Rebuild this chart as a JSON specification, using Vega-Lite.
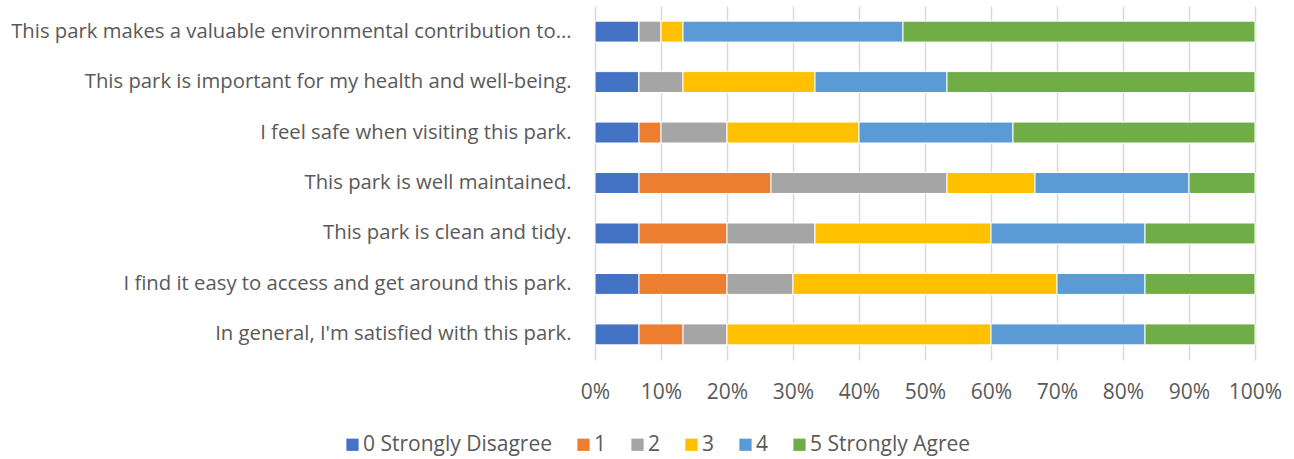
{
  "$schema": "https://vega.github.io/schema/vega-lite/v6.json",
  "width": 660,
  "height": 354,
  "autosize": "none",
  "padding": {"left": 595, "top": 6, "right": 39, "bottom": 99},
  "background": "white",
  "config": {
    "view": {"stroke": null},
    "font": "Open Sans",
    "axis": {"labelColor": "#595959", "labelFont": "Open Sans", "labelFontSize": 20.3},
    "legend": {"labelColor": "#595959", "labelFont": "Open Sans", "labelFontSize": 21}
  },
  "data": {
    "values": [
      {"q": "This park makes a valuable environmental contribution to…", "r": "0 Strongly Disagree", "o": 0, "n": 2},
      {"q": "This park makes a valuable environmental contribution to…", "r": "1", "o": 1, "n": 0},
      {"q": "This park makes a valuable environmental contribution to…", "r": "2", "o": 2, "n": 1},
      {"q": "This park makes a valuable environmental contribution to…", "r": "3", "o": 3, "n": 1},
      {"q": "This park makes a valuable environmental contribution to…", "r": "4", "o": 4, "n": 10},
      {"q": "This park makes a valuable environmental contribution to…", "r": "5 Strongly Agree", "o": 5, "n": 16},
      {"q": "This park is important for my health and well-being.", "r": "0 Strongly Disagree", "o": 0, "n": 2},
      {"q": "This park is important for my health and well-being.", "r": "1", "o": 1, "n": 0},
      {"q": "This park is important for my health and well-being.", "r": "2", "o": 2, "n": 2},
      {"q": "This park is important for my health and well-being.", "r": "3", "o": 3, "n": 6},
      {"q": "This park is important for my health and well-being.", "r": "4", "o": 4, "n": 6},
      {"q": "This park is important for my health and well-being.", "r": "5 Strongly Agree", "o": 5, "n": 14},
      {"q": "I feel safe when visiting this park.", "r": "0 Strongly Disagree", "o": 0, "n": 2},
      {"q": "I feel safe when visiting this park.", "r": "1", "o": 1, "n": 1},
      {"q": "I feel safe when visiting this park.", "r": "2", "o": 2, "n": 3},
      {"q": "I feel safe when visiting this park.", "r": "3", "o": 3, "n": 6},
      {"q": "I feel safe when visiting this park.", "r": "4", "o": 4, "n": 7},
      {"q": "I feel safe when visiting this park.", "r": "5 Strongly Agree", "o": 5, "n": 11},
      {"q": "This park is well maintained.", "r": "0 Strongly Disagree", "o": 0, "n": 2},
      {"q": "This park is well maintained.", "r": "1", "o": 1, "n": 6},
      {"q": "This park is well maintained.", "r": "2", "o": 2, "n": 8},
      {"q": "This park is well maintained.", "r": "3", "o": 3, "n": 4},
      {"q": "This park is well maintained.", "r": "4", "o": 4, "n": 7},
      {"q": "This park is well maintained.", "r": "5 Strongly Agree", "o": 5, "n": 3},
      {"q": "This park is clean and tidy.", "r": "0 Strongly Disagree", "o": 0, "n": 2},
      {"q": "This park is clean and tidy.", "r": "1", "o": 1, "n": 4},
      {"q": "This park is clean and tidy.", "r": "2", "o": 2, "n": 4},
      {"q": "This park is clean and tidy.", "r": "3", "o": 3, "n": 8},
      {"q": "This park is clean and tidy.", "r": "4", "o": 4, "n": 7},
      {"q": "This park is clean and tidy.", "r": "5 Strongly Agree", "o": 5, "n": 5},
      {"q": "I find it easy to access and get around this park.", "r": "0 Strongly Disagree", "o": 0, "n": 2},
      {"q": "I find it easy to access and get around this park.", "r": "1", "o": 1, "n": 4},
      {"q": "I find it easy to access and get around this park.", "r": "2", "o": 2, "n": 3},
      {"q": "I find it easy to access and get around this park.", "r": "3", "o": 3, "n": 12},
      {"q": "I find it easy to access and get around this park.", "r": "4", "o": 4, "n": 4},
      {"q": "I find it easy to access and get around this park.", "r": "5 Strongly Agree", "o": 5, "n": 5},
      {"q": "In general, I'm satisfied with this park.", "r": "0 Strongly Disagree", "o": 0, "n": 2},
      {"q": "In general, I'm satisfied with this park.", "r": "1", "o": 1, "n": 2},
      {"q": "In general, I'm satisfied with this park.", "r": "2", "o": 2, "n": 2},
      {"q": "In general, I'm satisfied with this park.", "r": "3", "o": 3, "n": 12},
      {"q": "In general, I'm satisfied with this park.", "r": "4", "o": 4, "n": 7},
      {"q": "In general, I'm satisfied with this park.", "r": "5 Strongly Agree", "o": 5, "n": 5}
    ]
  },
  "mark": {"type": "bar", "stroke": "white", "strokeWidth": 1},
  "encoding": {
    "y": {
      "field": "q",
      "type": "nominal",
      "sort": null,
      "title": null,
      "scale": {"paddingInner": 0.585, "paddingOuter": 0.3},
      "axis": {"domain": false, "ticks": false, "labelPadding": 24, "labelLimit": 650}
    },
    "x": {
      "field": "n",
      "type": "quantitative",
      "stack": "normalize",
      "title": null,
      "scale": {"domain": [0, 1], "nice": false},
      "axis": {
        "values": [0, 0.1, 0.2, 0.3, 0.4, 0.5, 0.6, 0.7, 0.8, 0.9, 1],
        "format": ".0%",
        "domain": false,
        "ticks": false,
        "labelFlush": false,
        "labelOverlap": false,
        "labelPadding": 21,
        "labelFontSize": 21,
        "grid": true,
        "gridColor": "#D9D9D9",
        "gridWidth": 1.5
      }
    },
    "color": {
      "field": "r",
      "type": "nominal",
      "sort": ["0 Strongly Disagree", "1", "2", "3", "4", "5 Strongly Agree"],
      "scale": {
        "domain": ["0 Strongly Disagree", "1", "2", "3", "4", "5 Strongly Agree"],
        "range": ["#4472C4", "#ED7D31", "#A5A5A5", "#FFC000", "#5B9BD5", "#70AD47"]
      },
      "legend": {
        "title": null,
        "orient": "none",
        "direction": "horizontal",
        "legendX": -253,
        "legendY": 428,
        "symbolType": "square",
        "symbolSize": 150,
        "symbolStrokeWidth": 0,
        "symbolOpacity": 1,
        "columnPadding": 20,
        "labelOffset": 0,
        "labelLimit": 400
      }
    },
    "order": {"field": "o", "type": "quantitative"}
  }
}
